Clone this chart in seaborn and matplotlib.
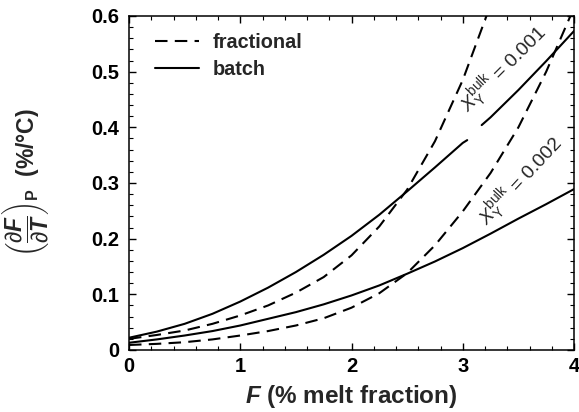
import numpy as np
import pandas as pd
import matplotlib
matplotlib.use("Agg")
import matplotlib.pyplot as plt
from matplotlib.lines import Line2D
from matplotlib.ticker import MultipleLocator
import seaborn as sns

# ---- data ----
F_grid = [0, 0.25, 0.5, 0.75, 1.0, 1.25, 1.5, 1.75, 2.0, 2.25, 2.5,
          2.75, 3.0, 3.25, 3.5, 3.75, 4.0]

# batch, X_Y^bulk = 0.001 (drawn in two pieces, broken around the label)
F_batch_001_a = [0, 0.25, 0.5, 0.75, 1.0, 1.25, 1.5, 1.75, 2.0, 2.25, 2.5, 2.75, 3.0, 3.04]
batch_001_a = [0.022, 0.033, 0.047, 0.065, 0.087, 0.112, 0.140, 0.171, 0.205,
               0.243, 0.285, 0.328, 0.372, 0.377]
F_batch_001_b = [3.17, 3.25, 3.5, 3.75, 4.0]
batch_001_b = [0.404, 0.418, 0.467, 0.519, 0.573]

F_frac_001 = [0, 0.25, 0.5, 0.75, 1.0, 1.25, 1.5, 1.75, 2.0, 2.25, 2.5, 2.75, 3.0, 3.25, 3.5]
frac_001 = [0.020, 0.027, 0.035, 0.047, 0.062, 0.080, 0.103, 0.131, 0.170,
            0.222, 0.288, 0.375, 0.485, 0.620, 0.790]

batch_002 = [0.013, 0.019, 0.026, 0.034, 0.044, 0.056, 0.068, 0.082, 0.098,
             0.116, 0.137, 0.159, 0.183, 0.209, 0.236, 0.262, 0.289]
frac_002 = [0.009, 0.011, 0.014, 0.019, 0.026, 0.034, 0.044, 0.057, 0.076,
            0.102, 0.138, 0.188, 0.249, 0.318, 0.400, 0.500, 0.615]

x_ticks = [0, 1, 2, 3, 4]
y_ticks = [0, 0.1, 0.2, 0.3, 0.4, 0.5, 0.6]
y_ticklabels = ["0", "0.1", "0.2", "0.3", "0.4", "0.5", "0.6"]
legend_labels = ["fractional", "batch"]
label_001 = r"$\mathit{X}_{\mathrm{Y}}^{\mathrm{bulk}}$ = 0.001"
label_002 = r"$\mathit{X}_{\mathrm{Y}}^{\mathrm{bulk}}$ = 0.002"

rows = []
for model, unit, fs, vals in [("batch", "0.001a", F_batch_001_a, batch_001_a),
                              ("batch", "0.001b", F_batch_001_b, batch_001_b),
                              ("fractional", "0.001", F_frac_001, frac_001),
                              ("batch", "0.002", F_grid, batch_002),
                              ("fractional", "0.002", F_grid, frac_002)]:
    for f, v in zip(fs, vals):
        rows.append({"F": f, "v": v, "model": model, "unit": model + unit})
df = pd.DataFrame(rows)

sns.set_theme(style="ticks")
plt.rcParams.update({
    "font.family": ["Liberation Sans", "DejaVu Sans"],
    "mathtext.fontset": "custom",
    "mathtext.rm": "Liberation Sans",
    "mathtext.it": "Liberation Sans:italic",
    "mathtext.bf": "Liberation Sans:bold:italic",
    "mathtext.sf": "Liberation Sans:bold",
    "axes.edgecolor": "black",
    "axes.linewidth": 1.1,
    "xtick.color": "black",
    "ytick.color": "black",
})

fig = plt.figure(figsize=(5.79, 4.12), dpi=100)
ax = fig.add_axes([0.2228, 0.1505, 0.7686, 0.8107])

sns.lineplot(data=df, x="F", y="v", style="model", units="unit", estimator=None,
             color="black", linewidth=1.5, ax=ax, legend=False,
             dashes={"fractional": (6, 3.5), "batch": ""}, sort=False)

ax.set_xlim(0, 4)
ax.set_ylim(0, 0.6)
ax.set_xticks(x_ticks)
ax.set_xticklabels([str(t) for t in x_ticks])
ax.set_yticks(y_ticks)
ax.set_yticklabels(y_ticklabels)
ax.xaxis.set_minor_locator(MultipleLocator(0.2))
ax.yaxis.set_minor_locator(MultipleLocator(0.02))
ax.tick_params(which="both", direction="in", top=True, right=True)
ax.tick_params(which="major", length=5, width=1.0, labelsize=14.5)
ax.tick_params(axis="x", which="major", pad=5)
ax.tick_params(axis="y", which="major", pad=7)
ax.tick_params(which="minor", length=3, width=0.8)
for lab in ax.get_xticklabels() + ax.get_yticklabels():
    lab.set_fontweight("bold")

ax.set_xlabel(r"$\mathbf{F}$ (% melt fraction)", fontsize=17.5, fontweight="bold")
ax.xaxis.set_label_coords(0.5, -0.1)
ax.set_ylabel(r"$\left(\dfrac{\partial \mathbf{F}}{\partial \mathbf{T}}\right)_{\mathsf{P}}$  (%/°C)",
              fontsize=16.5, fontweight="bold")
ax.yaxis.set_label_coords(-0.175, 0.5)

handles = [Line2D([], [], color="black", lw=1.5, dashes=(6, 3.5)),
           Line2D([], [], color="black", lw=1.5)]
leg = ax.legend(handles, legend_labels, loc="upper left", frameon=False,
                bbox_to_anchor=(0.058, 0.948), borderaxespad=0, borderpad=0,
                handlelength=2.2, handletextpad=0.7, labelspacing=0.38,
                prop={"weight": "bold", "size": 14.3})

ax.text(3.37, 0.505, label_001, rotation=45, ha="center", va="center",
        fontsize=14, rotation_mode="anchor")
ax.text(3.52, 0.303, label_002, rotation=47, ha="center", va="center",
        fontsize=14, rotation_mode="anchor")

fig.savefig("out.png", dpi=100)
